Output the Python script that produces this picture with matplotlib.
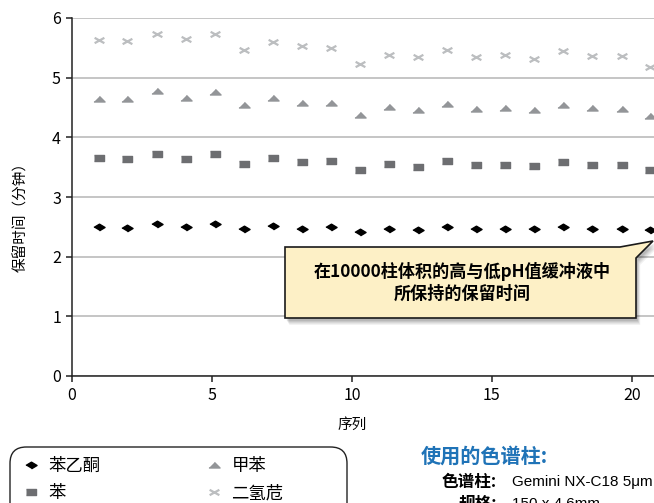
import matplotlib
matplotlib.use("Agg")
import matplotlib.pyplot as plt
from matplotlib.patches import Polygon, FancyBboxPatch
from matplotlib.path import Path

plt.rcParams['font.family'] = ['Noto Sans CJK SC', 'DejaVu Sans']

#=== DATA ===#
run_x = [0.95, 1.98, 3.02, 4.06, 5.10, 6.14, 7.17, 8.21, 9.25, 10.29,
         11.32, 12.36, 13.40, 14.44, 15.47, 16.51, 17.55, 18.59, 19.63, 20.66]
acetophenone = [2.49, 2.48, 2.55, 2.50, 2.55, 2.46, 2.52, 2.47, 2.49, 2.41,
                2.47, 2.44, 2.50, 2.47, 2.47, 2.46, 2.50, 2.47, 2.47, 2.45]
benzene = [3.65, 3.63, 3.72, 3.64, 3.72, 3.56, 3.66, 3.59, 3.60, 3.46,
           3.55, 3.50, 3.60, 3.54, 3.54, 3.52, 3.58, 3.54, 3.54, 3.46]
toluene = [4.65, 4.64, 4.77, 4.66, 4.76, 4.54, 4.66, 4.58, 4.58, 4.37,
           4.51, 4.45, 4.56, 4.48, 4.50, 4.46, 4.54, 4.49, 4.48, 4.36]
acenaphthene = [5.63, 5.61, 5.74, 5.64, 5.74, 5.46, 5.60, 5.53, 5.49, 5.23,
                5.38, 5.34, 5.47, 5.35, 5.38, 5.32, 5.45, 5.36, 5.37, 5.18]
series_names = ['苯乙酮', '苯', '甲苯', '二氢苊']
x_ticks = [0, 5, 10, 15, 20]
y_ticks = [0, 1, 2, 3, 4, 5, 6]

# squashed marker shapes (the original chart is stretched sideways)
diamond = [(-1, 0), (0, 0.6), (1, 0), (0, -0.6)]
rect = [(-1, -0.75), (1, -0.75), (1, 0.75), (-1, 0.75)]
tri = [(-1, -0.45), (1, -0.45), (0, 0.55)]
cross = Path([(-1, -0.55), (1, 0.55), (-1, 0.55), (1, -0.55)],
             [Path.MOVETO, Path.LINETO, Path.MOVETO, Path.LINETO])

W, H = 654, 503
fig = plt.figure(figsize=(W / 100, H / 100), dpi=100)
ax = fig.add_axes([72 / W, (H - 376) / H, (W - 72) / W, (376 - 18) / H])

l1, = ax.plot(run_x, acetophenone, ls='none', marker=diamond, ms=8, color='black')
l2, = ax.plot(run_x, benzene, ls='none', marker=rect, ms=6.5, color='#6d6e71')
l3, = ax.plot(run_x, toluene, ls='none', marker=tri, ms=8, color='#939598')
l4, = ax.plot(run_x, acenaphthene, ls='none', marker=cross, ms=7, color='#bcbec0',
              mfc='none', mew=1.6)

ax.set_xlim(0, 20.79)
ax.set_ylim(0, 6)
ax.set_xticks(x_ticks)
ax.set_yticks(y_ticks)
ax.yaxis.grid(True, color='#c0c0c0', lw=1.3)
ax.set_axisbelow(True)
for s in ['top', 'right']:
    ax.spines[s].set_visible(False)
for s in ['left', 'bottom']:
    ax.spines[s].set_color('#222222')
    ax.spines[s].set_linewidth(1.1)
ax.tick_params(direction='out', length=4, width=1.1, color='#222222',
               labelsize=11.5, pad=4)
ax.set_xlabel('序列', fontsize=10.5, va='center')
ax.xaxis.set_label_coords((352 - 72) / 582, (376 - 425) / 358)
ax.set_ylabel('保留时间（分钟）', fontsize=10.5, va='center')
ax.yaxis.set_label_coords((21 - 72) / 582, (376 - 213) / 358)

#=== CALLOUT ===#
def px(pts):
    return [(x / W, 1 - y / H) for x, y in pts]

box = [(285, 247), (620, 247), (653, 241), (636, 258), (636, 318), (285, 318)]
for i, a in enumerate([0.05, 0.05, 0.06, 0.07, 0.08]):
    off = 7 - i
    shadow = [(x + off * 0.6, y + off) for x, y in box]
    fig.patches.append(Polygon(px(shadow), closed=True, transform=fig.transFigure,
                               facecolor='black', edgecolor='none', alpha=a))
fig.patches.append(Polygon(px(box), closed=True, transform=fig.transFigure,
                           facecolor='#fdf0c6', edgecolor='#1a1a1a', lw=1.2))
fig.text(462 / W, 1 - 282.5 / H, '在10000柱体积的高与低pH值缓冲液中\n所保持的保留时间',
         ha='center', va='center', fontsize=12.3, fontweight='bold',
         linespacing=1.3)

#=== LEGEND ===#
frame = FancyBboxPatch((10 / W, -20 / H), 337 / W, (H - 447 + 20) / H,
                       boxstyle='round,pad=0,rounding_size=0.025',
                       transform=fig.transFigure, facecolor='white',
                       edgecolor='#222222', lw=1.0, mutation_aspect=W / H)
fig.patches.append(frame)
leg = fig.legend([l1, l2, l3, l4], series_names, ncol=2, loc='upper left',
                 bbox_to_anchor=(10 / W, 1 - 448 / H), frameon=False,
                 fontsize=12.5, handlelength=1.4, handletextpad=0.3,
                 columnspacing=5.85, labelspacing=0.55, borderpad=0.5,
                 borderaxespad=0)

#=== COLUMN INFO ===#
fig.text(421 / W, 1 - 456 / H, '使用的色谱柱:', color='#1f73b7', fontsize=14.5,
         fontweight='bold', va='center')
fig.text(497 / W, 1 - 482 / H, '色谱柱:', fontsize=12, fontweight='bold',
         ha='right', va='center')
fig.text(512 / W, 1 - 482 / H, 'Gemini NX-C18 5μm', fontsize=11,
         family=['Liberation Sans', 'DejaVu Sans'], va='center')
fig.text(497 / W, 1 - 504 / H, '规格:', fontsize=12, fontweight='bold',
         ha='right', va='center')
fig.text(512 / W, 1 - 504 / H, '150 x 4.6mm', fontsize=11,
         family=['Liberation Sans', 'DejaVu Sans'], va='center')

fig.savefig('out.png', dpi=100)
